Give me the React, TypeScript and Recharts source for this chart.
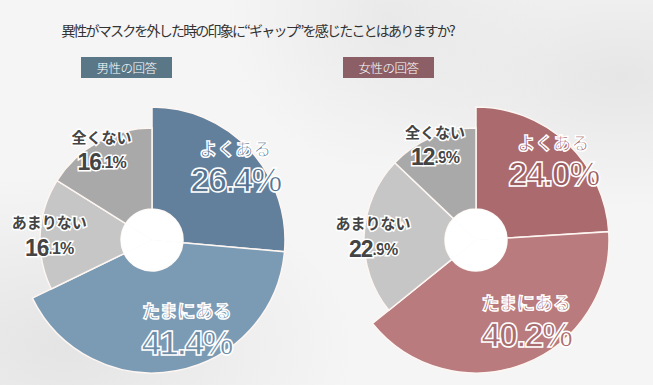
import { PieChart, Pie, Cell } from "recharts";

const answers = ["よくある", "たまにある", "あまりない", "全くない"];
const maleValues = [26.4, 41.4, 16.1, 16.1];
const femaleValues = [24.0, 40.2, 22.9, 12.9];

const maleColors = ["#62809c", "#7b9bb5", "#c6c6c6", "#a9a9a9"];
const femaleColors = ["#ab6b6e", "#b97b7d", "#c6c6c6", "#a9a9a9"];
// slightly deeper tone used inside the outlined labels
const maleInk = ["#56738f", "#6c8ca7"];
const femaleInk = ["#9c5d61", "#a96c6f"];

const TITLE = "異性がマスクを外した時の印象に“ギャップ”を感じたことはありますか?";

// first two answers are drawn on the bigger ring
const BIG_R = 133;
const SMALL_R = 112;
const HOLE_R = 31;
const isBig = (i: number) => i < 2;

// label placement per slice: distance from centre and angle nudge
const LABEL_R = [113, 93, 103, 104];
const LABEL_SHIFT = [0, 11.5, 0, 0];

const JP = "'Noto Sans CJK JP', sans-serif";
const NUM = "'Liberation Sans', Arial, sans-serif";

function makeLabel(ink: string[]) {
  return (props: any) => {
    const { cx, cy, midAngle, index, value } = props;
    const a = ((midAngle + LABEL_SHIFT[index]) * Math.PI) / 180;
    const x = cx + LABEL_R[index] * Math.cos(a);
    const y = cy - LABEL_R[index] * Math.sin(a);
    const txt = Number(value).toFixed(1);

    if (isBig(index)) {
      const fill = ink[index];
      return (
        <g key={index}>
          <text
            x={x}
            y={y - 16}
            textAnchor="middle"
            dominantBaseline="central"
            fontFamily={JP}
            fontWeight={700}
            fontSize={18}
            fill={fill}
            stroke="#fff"
            strokeWidth={1.4}
          >
            {answers[index]}
          </text>
          <text
            x={x}
            y={y + 16}
            textAnchor="middle"
            dominantBaseline="central"
            fontFamily={NUM}
            fontWeight={700}
            fontSize={35}
            letterSpacing={-1.8}
            fill={fill}
            stroke="#fff"
            strokeWidth={1.5}
          >
            {txt}%
          </text>
        </g>
      );
    }

    const [whole, frac] = txt.split(".");
    return (
      <g key={index}>
        <text
          x={x}
          y={y - 13}
          textAnchor="middle"
          dominantBaseline="central"
          fontFamily={JP}
          fontWeight={700}
          fontSize={15}
          fill="#444"
          stroke="#fff"
          strokeWidth={3}
          paintOrder="stroke"
        >
          {answers[index]}
        </text>
        <text
          x={x}
          y={y + 13}
          textAnchor="middle"
          dominantBaseline="central"
          fontFamily={NUM}
          fontWeight={700}
          fill="#444"
          stroke="#fff"
          strokeWidth={3}
          paintOrder="stroke"
          letterSpacing={-1}
        >
          <tspan fontSize={23}>{whole}</tspan>
          <tspan fontSize={16}>.{frac}%</tspan>
        </text>
      </g>
    );
  };
}

function Donut({
  values,
  colors,
  ink,
  cx,
  cy,
}: {
  values: number[];
  colors: string[];
  ink: string[];
  cx: number;
  cy: number;
}) {
  const data = answers.map((name, i) => ({ name, value: values[i] }));
  return [
    <Pie
      key="big"
      data={data}
      dataKey="value"
      cx={cx}
      cy={cy}
      innerRadius={HOLE_R}
      outerRadius={BIG_R}
      startAngle={90}
      endAngle={-270}
      isAnimationActive={false}
      labelLine={false}
    >
      {data.map((_, i) => (
        <Cell
          key={i}
          fill={isBig(i) ? colors[i] : "transparent"}
          stroke={isBig(i) ? "#fdf6f2" : "none"}
          strokeWidth={1.5}
        />
      ))}
    </Pie>,
    <Pie
      key="small"
      data={data}
      dataKey="value"
      cx={cx}
      cy={cy}
      innerRadius={HOLE_R}
      outerRadius={SMALL_R}
      startAngle={90}
      endAngle={-270}
      isAnimationActive={false}
      labelLine={false}
      label={makeLabel(ink)}
    >
      {data.map((_, i) => (
        <Cell
          key={i}
          fill={isBig(i) ? "transparent" : colors[i]}
          stroke={isBig(i) ? "none" : "#fdf6f2"}
          strokeWidth={1.5}
        />
      ))}
    </Pie>,
    <Pie
      key="hole"
      data={data}
      dataKey="value"
      cx={cx}
      cy={cy}
      innerRadius={0}
      outerRadius={HOLE_R}
      startAngle={90}
      endAngle={-270}
      isAnimationActive={false}
      stroke="none"
      fill="#fff"
    />,
  ];
}

function Tag({ left, bg, text }: { left: number; bg: string; text: string }) {
  return (
    <div
      style={{
        position: "absolute",
        left,
        top: 57,
        width: 91,
        height: 21,
        background: bg,
        color: "#fff",
        fontFamily: JP,
        fontWeight: 300,
        fontSize: 12.5,
        lineHeight: "21px",
        letterSpacing: -0.5,
        textAlign: "center",
      }}
    >
      {text}
    </div>
  );
}

export default function App() {
  return (
    <div
      style={{
        position: "fixed",
        left: 0,
        top: 0,
        width: 653,
        height: 385,
        overflow: "hidden",
        background:
          "radial-gradient(ellipse at 10% 90%, #e4e4e4 0%, rgba(228,228,228,0) 35%), radial-gradient(ellipse at 95% 20%, #e6e6e6 0%, rgba(230,230,230,0) 30%), radial-gradient(ellipse at 60% 5%, #e9e9e9 0%, rgba(233,233,233,0) 30%), #f5f5f5",
      }}
    >
      <div
        style={{
          position: "absolute",
          left: 0,
          top: 20,
          width: 515,
          textAlign: "center",
          fontFamily: JP,
          fontWeight: 400,
          fontSize: 14,
          lineHeight: "20px",
          letterSpacing: -1.8,
          color: "#333",
        }}
      >
        {TITLE}
      </div>
      <Tag left={81} bg="#5a7787" text="男性の回答" />
      <Tag left={343} bg="#8c5f66" text="女性の回答" />
      <div style={{ position: "absolute", left: 0, top: 0 }}>
        <PieChart width={653} height={385} margin={{ top: 0, right: 0, bottom: 0, left: 0 }}>
          {Donut({ values: maleValues, colors: maleColors, ink: maleInk, cx: 152, cy: 240 })}
          {Donut({ values: femaleValues, colors: femaleColors, ink: femaleInk, cx: 476, cy: 240 })}
        </PieChart>
      </div>
    </div>
  );
}
